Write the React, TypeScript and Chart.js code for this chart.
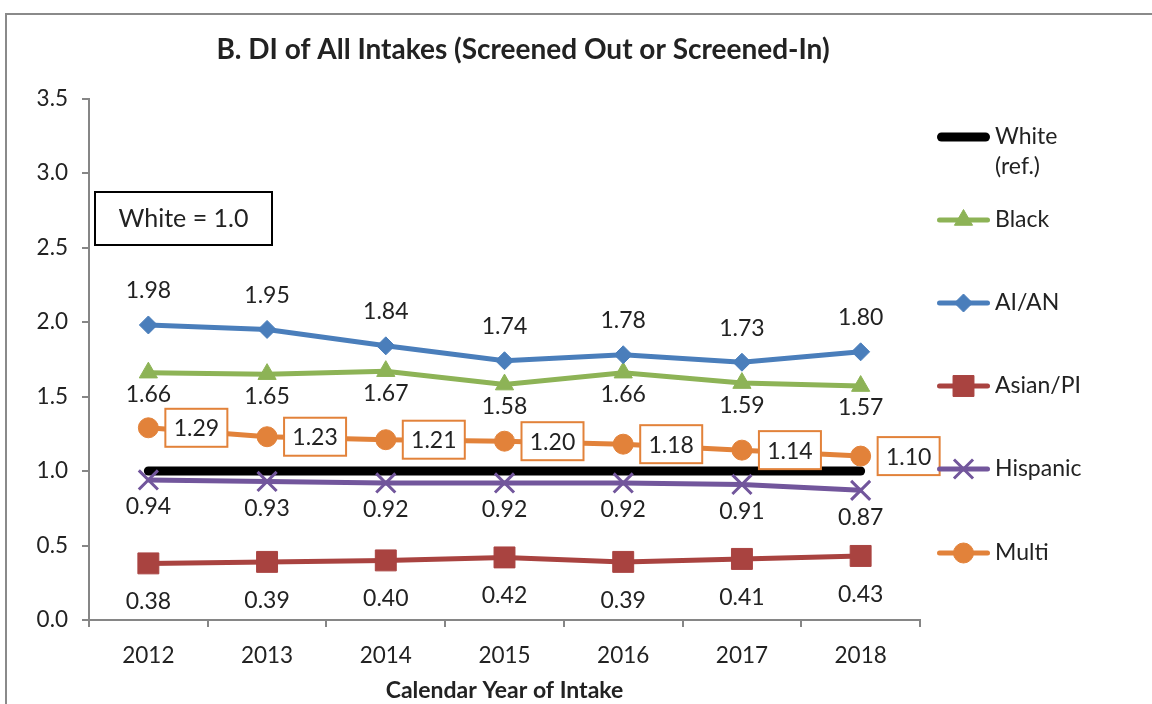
import React, { useEffect, useRef } from 'react';
import { Chart, registerables } from 'chart.js';
import { drawPoint } from 'chart.js/helpers';

Chart.register(...registerables);

const years = ['2012', '2013', '2014', '2015', '2016', '2017', '2018'];
const whiteRef = [1, 1, 1, 1, 1, 1, 1];
const blackVals = [1.66, 1.65, 1.67, 1.58, 1.66, 1.59, 1.57];
const aianVals = [1.98, 1.95, 1.84, 1.74, 1.78, 1.73, 1.8];
const asianVals = [0.38, 0.39, 0.4, 0.42, 0.39, 0.41, 0.43];
const hispanicVals = [0.94, 0.93, 0.92, 0.92, 0.92, 0.91, 0.87];
const multiVals = [1.29, 1.23, 1.21, 1.2, 1.18, 1.14, 1.1];
const yTicks = [0, 0.5, 1, 1.5, 2, 2.5, 3, 3.5];

const TITLE = 'B. DI of All Intakes (Screened Out or Screened-In)';
const X_TITLE = 'Calendar Year of Intake';
const NOTE = 'White = 1.0';

const FONT = 'Lato, "Open Sans", sans-serif';
const TEXT = '#222222';
const AXIS = '#868686';

const C_BLACK = '#8DB356';
const C_AIAN = '#4A7EBB';
const C_ASIAN = '#A94340';
const C_HISP = '#72569C';
const C_MULTI = '#E2823A';

// label placement per series: 'above' | 'below' | 'box'
const labelStyle: Record<string, { mode: string; dy: number }> = {
  'Black': { mode: 'below', dy: 22 },
  'AI/AN': { mode: 'above', dy: -34 },
  'Asian/PI': { mode: 'below', dy: 38.5 },
  'Hispanic': { mode: 'below', dy: 27 },
  'Multi': { mode: 'box', dy: 0 },
};

const overlay = {
  id: 'overlay',
  afterDatasetsDraw(chart: any) {
    const ctx = chart.ctx;
    const area = chart.chartArea;
    ctx.save();

    // outer border
    ctx.strokeStyle = '#8a8a8a';
    ctx.lineWidth = 2;
    ctx.beginPath();
    ctx.moveTo(6, 704);
    ctx.lineTo(6, 14);
    ctx.lineTo(1152, 14);
    ctx.stroke();

    // title
    ctx.fillStyle = TEXT;
    ctx.font = `bold 28px ${FONT}`;
    ctx.textAlign = 'center';
    ctx.textBaseline = 'middle';
    ctx.fillText(TITLE, 523, 50);

    // x-axis title
    ctx.font = `bold 23px ${FONT}`;
    ctx.fillText(X_TITLE, (area.left + area.right) / 2, 691);

    // note box
    ctx.strokeStyle = '#000';
    ctx.lineWidth = 2;
    ctx.fillStyle = '#fff';
    ctx.fillRect(95, 192, 177, 53);
    ctx.strokeRect(95, 192, 177, 53);
    ctx.fillStyle = TEXT;
    ctx.font = `25px ${FONT}`;
    ctx.fillText(NOTE, 183.5, 219);

    // data labels
    chart.data.datasets.forEach((ds: any, i: number) => {
      const st = labelStyle[ds.label];
      if (!st) return;
      const meta = chart.getDatasetMeta(i);
      meta.data.forEach((pt: any, j: number) => {
        const txt = Number(ds.data[j]).toFixed(2);
        ctx.font = `23px ${FONT}`;
        ctx.textAlign = 'center';
        ctx.textBaseline = 'middle';
        if (st.mode === 'box') {
          const cx = pt.x + 48;
          const cy = pt.y;
          const w = 62;
          const h = 38;
          ctx.fillStyle = '#fff';
          ctx.fillRect(cx - w / 2, cy - h / 2, w, h);
          ctx.strokeStyle = ds.borderColor;
          ctx.lineWidth = 2;
          ctx.strokeRect(cx - w / 2, cy - h / 2, w, h);
          ctx.fillStyle = TEXT;
          ctx.fillText(txt, cx, cy + 1);
        } else {
          ctx.fillStyle = TEXT;
          ctx.fillText(txt, pt.x, pt.y + st.dy);
        }
      });
    });

    // legend
    const lx0 = 937;
    const lx1 = 990;
    const tx = 995;
    const ys = [137, 220, 303, 386, 469, 553];
    const order = ['White (ref.)', 'Black', 'AI/AN', 'Asian/PI', 'Hispanic', 'Multi'];
    order.forEach((name, k) => {
      const idx = chart.data.datasets.findIndex((d: any) => d.label === name);
      const ds = chart.data.datasets[idx];
      const y = ys[k];
      ctx.strokeStyle = ds.borderColor;
      ctx.lineWidth = ds.borderWidth;
      ctx.lineCap = 'round';
      ctx.beginPath();
      ctx.moveTo(lx0 + ds.borderWidth / 2, y);
      ctx.lineTo(lx1 - ds.borderWidth / 2, y);
      ctx.stroke();
      ctx.lineCap = 'butt';
      if (ds.pointRadius > 0) {
        ctx.fillStyle = ds.pointBackgroundColor;
        ctx.strokeStyle = ds.pointBorderColor;
        ctx.lineWidth = ds.pointBorderWidth;
        drawPoint(ctx, { pointStyle: ds.pointStyle, radius: ds.pointRadius, rotation: 0, borderWidth: ds.pointBorderWidth }, (lx0 + lx1) / 2, y);
      }
      ctx.fillStyle = TEXT;
      ctx.font = `23px ${FONT}`;
      ctx.textAlign = 'left';
      ctx.textBaseline = 'middle';
      if (name === 'White (ref.)') {
        ctx.fillText('White', tx, y);
        ctx.fillText('(ref.)', tx, y + 30);
      } else {
        ctx.fillText(name, tx, y);
      }
    });

    ctx.restore();
  },
};

function series(label: string, data: number[], color: string, style: string, radius: number, order: number, pbw = 1) {
  return {
    label,
    data,
    borderColor: color,
    backgroundColor: color,
    borderWidth: 5,
    pointStyle: style,
    pointRadius: radius,
    pointBackgroundColor: color,
    pointBorderColor: color,
    pointBorderWidth: pbw,
    tension: 0,
    order,
  };
}

export default function App() {
  const ref = useRef<HTMLCanvasElement | null>(null);
  useEffect(() => {
    if (!ref.current) return;
    Chart.defaults.font.family = FONT;
    const chart = new Chart(ref.current, {
      type: 'line',
      data: {
        labels: years,
        datasets: [
          {
            label: 'White (ref.)',
            data: whiteRef,
            borderColor: '#000000',
            backgroundColor: '#000000',
            borderWidth: 9,
            borderCapStyle: 'round',
            pointRadius: 0,
            pointStyle: 'circle',
            pointBackgroundColor: '#000',
            pointBorderColor: '#000',
            pointBorderWidth: 0,
            tension: 0,
            order: 6,
          } as any,
          series('Black', blackVals, C_BLACK, 'triangle', 10.5, 5),
          series('AI/AN', aianVals, C_AIAN, 'rectRot', 9, 4),
          series('Asian/PI', asianVals, C_ASIAN, 'rect', 14.8, 3),
          series('Hispanic', hispanicVals, C_HISP, 'crossRot', 13.5, 2, 3),
          series('Multi', multiVals, C_MULTI, 'circle', 10, 1),
        ],
      },
      options: {
        responsive: false,
        animation: false,
        devicePixelRatio: 1,
        events: [],
        layout: { padding: { left: 0, top: 98.5, right: 232, bottom: 0 } },
        plugins: {
          legend: { display: false },
          title: { display: false },
          tooltip: { enabled: false },
        },
        scales: {
          x: {
            type: 'category',
            offset: true,
            grid: {
              offset: true,
              drawOnChartArea: false,
              drawTicks: true,
              tickLength: 7,
              color: AXIS,
              lineWidth: 2,
            },
            border: { display: true, color: AXIS, width: 2 },
            ticks: { color: TEXT, font: { size: 22.5, family: FONT }, padding: 15, maxRotation: 0 },
            afterFit: (s: any) => {
              s.height = 84;
            },
          },
          y: {
            min: 0,
            max: 3.5,
            afterBuildTicks: (s: any) => {
              s.ticks = yTicks.map((v) => ({ value: v }));
            },
            grid: {
              drawOnChartArea: false,
              drawTicks: true,
              tickLength: 7,
              color: AXIS,
              lineWidth: 2,
            },
            border: { display: true, color: AXIS, width: 2 },
            ticks: {
              color: TEXT,
              font: { size: 22.5, family: FONT },
              padding: 14,
              callback: (v: any) => Number(v).toFixed(1),
            },
            afterFit: (s: any) => {
              s.width = 89;
            },
          },
        },
      },
      plugins: [overlay],
    } as any);
    return () => chart.destroy();
  }, []);
  return (
    <div style={{ position: 'fixed', left: 0, top: 0, width: 1152, height: 704, background: '#fff' }}>
      <canvas ref={ref} width={1152} height={704} style={{ display: 'block', width: 1152, height: 704 }} />
    </div>
  );
}
